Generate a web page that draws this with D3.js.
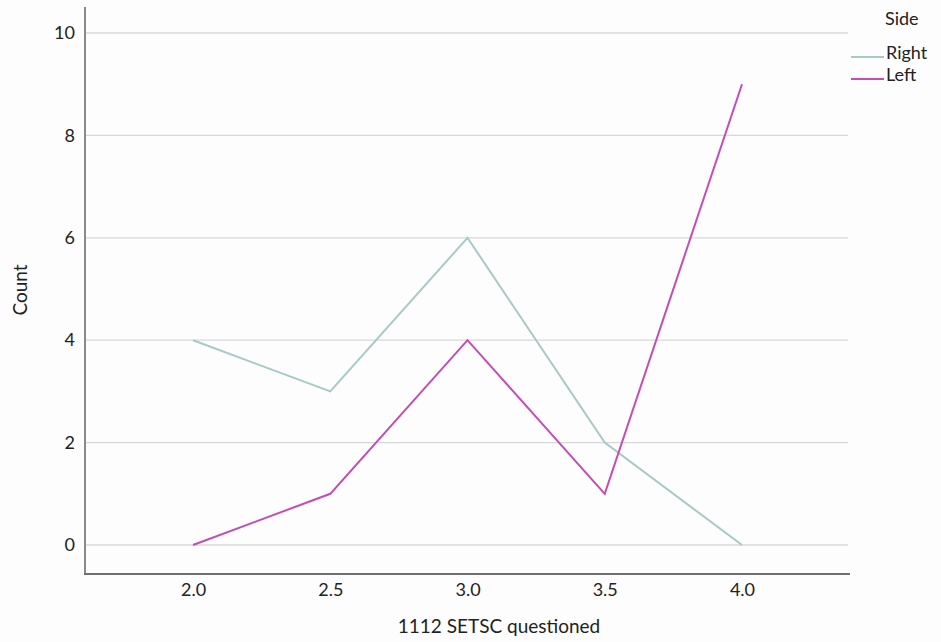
<!DOCTYPE html>
<html>
<head>
<meta charset="utf-8">
<script src="https://cdn.jsdelivr.net/npm/d3@7"></script>
<style>
  body { margin: 0; background: #fdfdfd; }
  text { font-family: Lato, "Open Sans", sans-serif; fill: #222; }
</style>
</head>
<body>
<svg id="chart"></svg>
<script>
const categories = ["2.0", "2.5", "3.0", "3.5", "4.0"];
const rightValues = [4, 3, 6, 2, 0];
const leftValues = [0, 1, 4, 1, 9];
const yTicks = [0, 2, 4, 6, 8, 10];
const seriesNames = ["Right", "Left"];
const seriesColors = ["#a8c9c6", "#c34cb6"];

const width = 941, height = 642;
const plotLeft = 85, plotRight = 850, plotTop = 7, plotBottom = 574;

const svg = d3.select("#chart")
    .attr("width", width)
    .attr("height", height);

const x = d3.scalePoint()
    .domain(categories)
    .range([plotLeft, plotRight])
    .padding(0.787);

const y = d3.scaleLinear()
    .domain([0, 10])
    .range([545, 33]);

// grid lines
svg.append("g")
    .selectAll("line")
    .data(yTicks)
    .enter()
    .append("line")
    .attr("x1", plotLeft)
    .attr("x2", plotRight - 2)
    .attr("y1", d => y(d))
    .attr("y2", d => y(d))
    .attr("stroke", "#d8d8d8")
    .attr("stroke-width", 1.3);

// y axis
const yAxis = svg.append("g")
    .attr("transform", "translate(" + plotLeft + ",0)")
    .call(d3.axisLeft(y).tickValues(yTicks).tickSize(0).tickPadding(10));
yAxis.select(".domain").remove();
yAxis.selectAll("text").style("font-size", "18px").attr("fill", "#222");

// x axis
const xAxis = svg.append("g")
    .attr("transform", "translate(0," + plotBottom + ")")
    .call(d3.axisBottom(x).tickSize(0).tickPadding(9));
xAxis.select(".domain").remove();
xAxis.selectAll("text").style("font-size", "18px").attr("fill", "#222");

// axis lines
svg.append("line")
    .attr("x1", plotLeft).attr("x2", plotLeft)
    .attr("y1", plotTop).attr("y2", plotBottom + 1)
    .attr("stroke", "#8a8a8a").attr("stroke-width", 2);
svg.append("line")
    .attr("x1", plotLeft - 1).attr("x2", plotRight)
    .attr("y1", plotBottom).attr("y2", plotBottom)
    .attr("stroke", "#6f6f6f").attr("stroke-width", 2);

// axis titles
svg.append("text")
    .attr("x", 499)
    .attr("y", 633)
    .attr("text-anchor", "middle")
    .style("font-size", "19px")
    .text("1112 SETSC questioned");

svg.append("text")
    .attr("transform", "translate(27,290) rotate(-90)")
    .attr("text-anchor", "middle")
    .style("font-size", "19px")
    .text("Count");

// lines
const line = d3.line()
    .x((d, i) => x(categories[i]))
    .y(d => y(d));

[rightValues, leftValues].forEach((vals, k) => {
  svg.append("path")
      .datum(vals)
      .attr("fill", "none")
      .attr("stroke", seriesColors[k])
      .attr("stroke-width", 2)
      .attr("stroke-linejoin", "miter")
      .attr("d", line);
});

// legend
svg.append("text")
    .attr("x", 885)
    .attr("y", 25)
    .style("font-size", "18px")
    .text("Side");

const legend = svg.append("g")
    .selectAll("g")
    .data(seriesNames)
    .enter()
    .append("g")
    .attr("transform", (d, i) => "translate(0," + (57 + i * 22) + ")");

legend.append("line")
    .attr("x1", 851).attr("x2", 884)
    .attr("y1", 0).attr("y2", 0)
    .attr("stroke", (d, i) => seriesColors[i])
    .attr("stroke-width", 2);

legend.append("text")
    .attr("x", 886)
    .attr("y", 2)
    .style("font-size", "18px")
    .text(d => d);
</script>
</body>
</html>
